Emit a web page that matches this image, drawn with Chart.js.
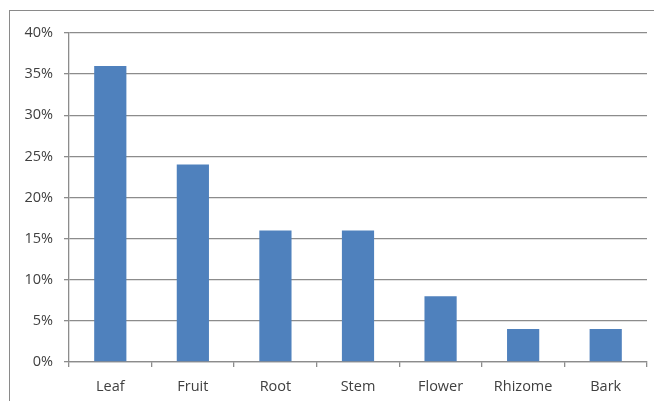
<!DOCTYPE html>
<html>
<head>
<meta charset="utf-8">
<script src="https://cdn.jsdelivr.net/npm/chart.js@4/dist/chart.umd.min.js"></script>
<style>
    html, body { margin: 0; padding: 0; background: #fff; overflow: hidden; }
    #wrap { position: relative; width: 654px; height: 401px; }
    #frame {
        position: absolute; left: 9px; top: 10px; width: 700px; height: 500px;
        border: 1.5px solid #8a8a8a; box-sizing: border-box;
    }
    canvas { position: absolute; left: 0; top: 0; }
</style>
</head>
<body>
<div id="wrap">
    <div id="frame"></div>
    <canvas id="chart" width="654" height="401"></canvas>
</div>
<script>
// --------- Données ----------
const categories = ["Leaf", "Fruit", "Root", "Stem", "Flower", "Rhizome", "Bark"];
const shares = [36, 24, 16, 16, 8, 4, 4];
const yTicks = [0, 5, 10, 15, 20, 25, 30, 35, 40];

const axisColor = "#8c8c8c";
const labelFont = { family: "'Open Sans', Lato, sans-serif", size: 14.5 };

// --------- Graphique ----------
new Chart(document.getElementById("chart").getContext("2d"), {
    type: "bar",
    data: {
        labels: categories,
        datasets: [{
            data: shares,
            backgroundColor: "#4F81BD",
            borderWidth: 0,
            barPercentage: 0.39,
            categoryPercentage: 1
        }]
    },
    options: {
        responsive: false,
        animation: false,
        layout: { padding: { top: 33, right: 7, left: 0, bottom: 0 } },
        plugins: { legend: { display: false }, tooltip: { enabled: false } },
        scales: {
            x: {
                grid: { drawOnChartArea: false, color: axisColor, tickLength: 5, lineWidth: 1.3 },
                border: { color: axisColor, width: 1.3 },
                ticks: { color: "#404040", font: labelFont, padding: 11 },
                afterFit: s => { s.height = 39; }
            },
            y: {
                min: 0,
                max: 40,
                afterBuildTicks: s => { s.ticks = yTicks.map(v => ({ value: v })); },
                grid: { color: axisColor, tickLength: 5, lineWidth: 1.3 },
                border: { color: axisColor, width: 1.3 },
                ticks: { color: "#404040", font: labelFont, padding: 11, callback: v => v + "%" },
                afterFit: s => { s.width = 69; }
            }
        }
    }
});
</script>
</body>
</html>
